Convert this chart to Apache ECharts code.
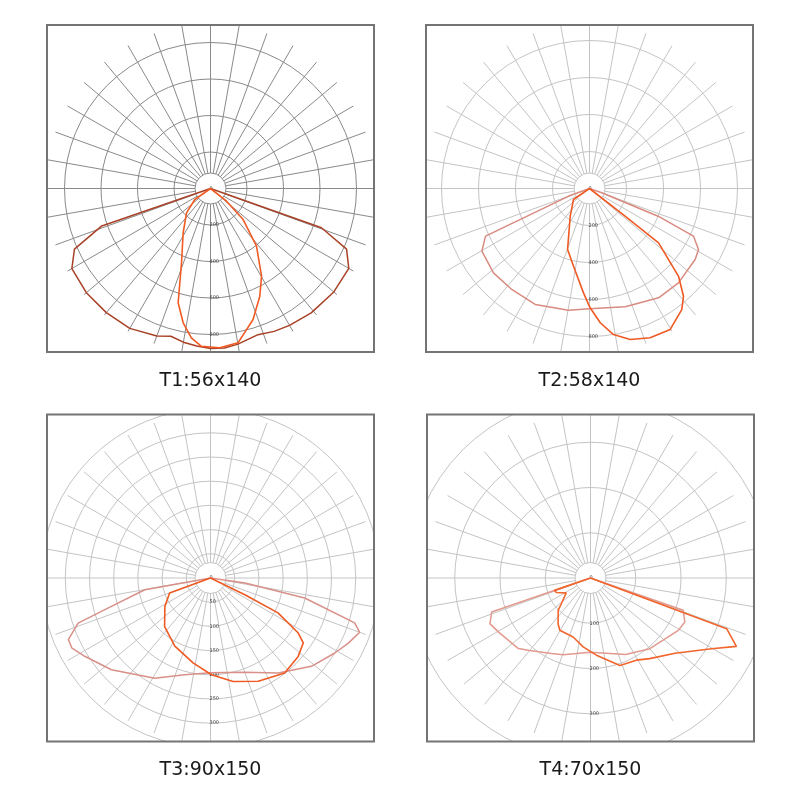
<!DOCTYPE html>
<html><head><meta charset="utf-8">
<script src="https://cdn.jsdelivr.net/npm/echarts@6/dist/echarts.min.js"></script>
<style>html,body{margin:0;padding:0;background:#fff}#c{width:800px;height:800px}</style>
</head><body><div id="c"></div>
<script>
// ---------- DATA ----------
const titles = ['T1:56x140', 'T2:58x140', 'T3:90x150', 'T4:70x150'];
const radiusMax = [800, 800, 350, 400];
const radiusStep = [200, 200, 50, 100];

// gamma angles in degrees (0 = nadir, negative = left, positive = right), intensity values
const t1WideAngles  = [-90,-75,-71,-66,-60,-50,-40,-30,-20,-15,-10,-5,0,5,10,18,24,30,39,50,60,66,70.5,75,90];
const t1WideValues  = [0,0,630,816,877,888,888,885,860,838,855,866,877,877,866,842,857,866,877,882,875,816,645,0,0];
const t1NarrowAngles = [-90,-65,-55,-44.6,-31.7,-21.3,-15.8,-11.5,-7.3,-3.3,3.3,10.1,18,24.6,30.2,38.6,46.4,51.6,65,90];
const t1NarrowValues = [0,0,105,187,285,437,651,751,825,866,874,859,755,649,556,404,247,112,0,0];

const t2WideAngles  = [-90,-72,-69.9,-65.4,-59.8,-48.7,-37.6,-25.1,-9.8,0,16.8,32.3,43.3,56.1,60.8,65.4,68,70.7,75,90];
const t2WideValues  = [0,0,119,618,673,691,689,692,668,650,668,699,701,688,675,618,400,70,0,0];
const t2NarrowAngles = [-90,-70,-55.5,-34.9,-19.8,-11.6,-3.3,0.3,4.6,9.3,15.1,22.1,29.8,37.3,41.1,45.4,51.8,52.2,60,90];
const t2NarrowValues = [0,0,105,182,350,429,565,645,728,800,845,871,878,823,773,676,475,243,0,0];

const t3WideAngles  = [-90,-88,-79.9,-74,-71.2,-66.6,-63.3,-58.1,-47.2,-29.1,-14.9,0,20,35.5,48.8,58.9,64.7,70,72.7,78,81.7,88,90];
const t3WideValues  = [0,0,138,213,289,320,321,306,279,237,207,196,207,241,277,300,315,328,312,199,72,0,0];
const t3NarrowAngles = [-90,-75,-69.8,-58.1,-43.4,-27.6,-11.6,0.6,12.3,24.8,38,48.2,55,57.9,62.7,64,70,90];
const t3NarrowValues = [0,0,90,111,138,159,179,200,219,235,249,243,234,214,157,79,0,0];

const t4WideAngles  = [-90,-75,-71,-65.6,-59.7,-45.6,-40,-27.3,-19.7,0,24.6,40,59.2,65,70.8,75,90];
const t4WideValues  = [0,0,231,244,236,223,209,188,180,164,186,204,226,230,217,0,0];
const t4NarrowAngles = [-90,-75,-71,-67,-58.5,-48.6,-45,-35.3,-30.4,-16.4,-6.1,4.4,18.6,29.2,36.3,48.3,59.7,64.9,69.6,75,90];
const t4NarrowValues = [0,0,84,82,63,86,101,124,134,136,153,171,204,208,221,250,310,356,321,0,0];

const wideSets = [[t1WideAngles,t1WideValues],[t2WideAngles,t2WideValues],[t3WideAngles,t3WideValues],[t4WideAngles,t4WideValues]];
const narrowSets = [[t1NarrowAngles,t1NarrowValues],[t2NarrowAngles,t2NarrowValues],[t3NarrowAngles,t3NarrowValues],[t4NarrowAngles,t4NarrowValues]];

// ---------- LAYOUT / STYLE ----------
const panels = [
  {cx:210.5, cy:188.5, R:146,   grid:'#8a8a8a', wide:'#a84126', narrow:'#f15a22'},
  {cx:589.5, cy:188.5, R:148,   grid:'#c4c4c4', wide:'#d88b80', narrow:'#ef5a24'},
  {cx:210.5, cy:578,   R:169.4, grid:'#c4c4c4', wide:'#d99088', narrow:'#ee5a22'},
  {cx:590.5, cy:578,   R:181,   grid:'#c4c4c4', wide:'#e29a8e', narrow:'#f2652c'}
];
const HALF = 163.5, INNER = 15.5, SPOKE = 165, DATA_SCALE = 1.5;

const polar = [], angleAxis = [], radiusAxis = [], series = [], graphic = [];
const hiddenAngle = (idx, extra) => Object.assign({polarIndex: idx, type:'value', min:0, max:360,
  axisLine:{show:false}, axisTick:{show:false}, axisLabel:{show:false}, splitLine:{show:false}}, extra || {});

panels.forEach((p, i) => {
  const base = i * 4;
  // inner small circle
  polar.push({center:[p.cx, p.cy], radius: INNER});
  angleAxis.push(hiddenAngle(base, {startAngle:90, axisLine:{show:true, lineStyle:{color:p.grid, width:1}}}));
  radiusAxis.push({polarIndex: base, type:'value', min:0, max:1, show:false});
  // spokes every 10 degrees
  polar.push({center:[p.cx, p.cy], radius:[INNER, SPOKE]});
  angleAxis.push(hiddenAngle(base+1, {interval:10, startAngle:90,
    splitLine:{show:true, lineStyle:{color:p.grid, width:1}}}));
  radiusAxis.push({polarIndex: base+1, type:'value', min:0, max:1, show:false});
  // value circles + labels
  polar.push({center:[p.cx, p.cy], radius:[0, p.R]});
  angleAxis.push(hiddenAngle(base+2, {startAngle:270, clockwise:false}));
  radiusAxis.push({polarIndex: base+2, type:'value', min:0, max:radiusMax[i], interval:radiusStep[i],
    axisLine:{show:false}, axisTick:{show:false},
    axisLabel:{show:true, fontSize:5, color:'#444', margin:-1, fontFamily:'DejaVu Sans'},
    splitLine:{show:true, lineStyle:{color:p.grid, width:1}}});
  // data polar (same scale, larger extent so curves are never clipped)
  polar.push({center:[p.cx, p.cy], radius:[0, p.R * DATA_SCALE]});
  angleAxis.push(hiddenAngle(base+3, {startAngle:270, clockwise:false}));
  radiusAxis.push({polarIndex: base+3, type:'value', min:0, max:radiusMax[i] * DATA_SCALE, show:false});

  const toData = (set) => set[0].map((g, k) => [set[1][k], (g + 360) % 360]);
  series.push({type:'line', coordinateSystem:'polar', polarIndex: base+3, data: toData(wideSets[i]),
    symbol:'none', smooth:false, lineStyle:{color:p.wide, width:1.5}, z:3, silent:true});
  series.push({type:'line', coordinateSystem:'polar', polarIndex: base+3, data: toData(narrowSets[i]),
    symbol:'none', smooth:false, lineStyle:{color:p.narrow, width:1.6}, z:4, silent:true});

  // white mask around frame (clips overflowing circles/spokes)
  const x0 = p.cx - HALF, y0 = p.cy - HALF, S = 2 * HALF, M = 24;
  [[x0-M, y0-M, S+2*M, M], [x0-M, y0+S, S+2*M, M], [x0-M, y0, M, S], [x0+S, y0, M, S]].forEach(r => {
    graphic.push({type:'rect', z:100, silent:true, shape:{x:r[0], y:r[1], width:r[2], height:r[3]}, style:{fill:'#ffffff'}});
  });
  graphic.push({type:'rect', z:101, silent:true, shape:{x:x0, y:y0, width:S, height:S}, style:{fill:'none', stroke:'#747474', lineWidth:2}});
  graphic.push({type:'text', z:102, x:p.cx, y:p.cy + HALF + 29, silent:true,
    style:{text:titles[i], fill:'#1a1a1a', fontSize:19, fontFamily:'DejaVu Sans', align:'center', verticalAlign:'middle'}});
});

const chart = echarts.init(document.getElementById('c'), null, {renderer:'canvas'});
chart.setOption({
  backgroundColor:'#ffffff',
  animation:false,
  polar, angleAxis, radiusAxis, series, graphic
});
</script></body></html>
